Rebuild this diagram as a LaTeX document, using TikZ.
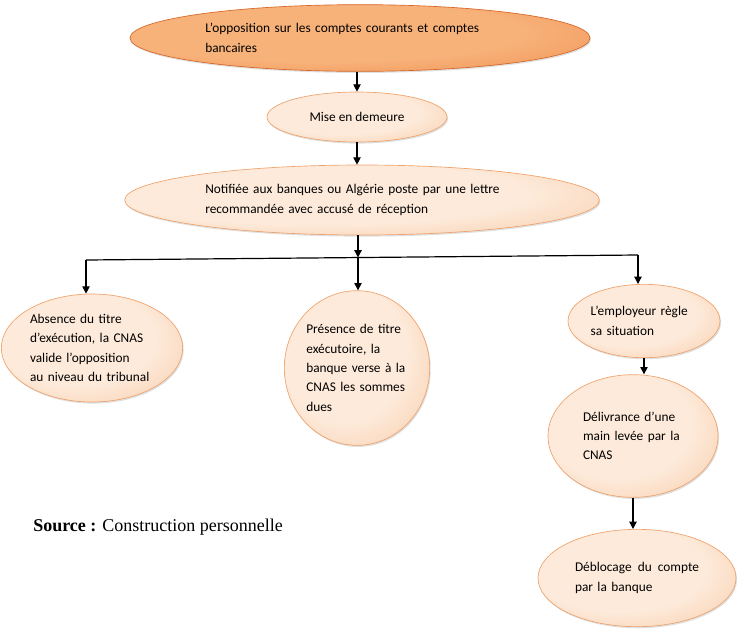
\documentclass[tikz,border=0pt]{standalone}
\usepackage{fontspec}
\setmainfont{Carlito}
\newfontfamily\timesfont{Liberation Serif}
\usetikzlibrary{arrows.meta,shapes.geometric,shadows}
\definecolor{peachin}{RGB}{253,234,218}
\definecolor{peachout}{RGB}{245,182,134}
\definecolor{peachedge}{RGB}{238,162,108}
\definecolor{orgin}{RGB}{247,178,122}
\definecolor{orgout}{RGB}{236,124,56}
\definecolor{orgedge}{RGB}{214,102,38}
\pgfdeclareradialshading{peachshade}{\pgfpoint{-8bp}{8bp}}{color(0bp)=(peachin); color(22bp)=(peachin); color(50bp)=(peachout)}
\pgfdeclareradialshading{orgshade}{\pgfpoint{-8bp}{8bp}}{color(0bp)=(orgin); color(22bp)=(orgin); color(50bp)=(orgout)}
\newcommand{\ovalfont}{\fontsize{10}{14.5}\selectfont\hyphenpenalty=10000\relax\exhyphenpenalty=10000\relax}
\tikzset{
  oval/.style    ={ellipse, inner sep=0pt, align=left, draw=peachedge, line width=0.5pt,
                   shading=peachshade, font=\ovalfont,
                   drop shadow={shadow xshift=0.8pt, shadow yshift=-1.2pt,
                                fill=black!40, opacity=0.3}},
  topoval/.style ={oval, draw=orgedge, shading=orgshade},
  flow/.style    ={-{Triangle[length=5.5pt,width=5.5pt]}, line width=0.9pt},
  bus/.style     ={line width=0.9pt},
  src/.style     ={anchor=west, inner sep=0pt, font=\timesfont\fontsize{13.5}{16}\selectfont},
}

\begin{document}
\begin{tikzpicture}[x=0.75pt,y=-0.75pt]
    \useasboundingbox (0,0) rectangle (737,632);

    % nodes
    \node[topoval, minimum width=345pt, minimum height=50pt, text width=232pt] (opp) at (360,38)
         {L’opposition sur les comptes courants et comptes\\bancaires};
    \node[oval, minimum width=135pt, minimum height=37.5pt, align=center] (mise) at (357,117)
         {Mise en demeure};
    \node[oval, minimum width=356pt, minimum height=52.5pt, text width=235pt] (notif) at (362,200)
         {Notifiée aux banques ou Algérie poste par une lettre\\recommandée avec accusé de réception};
    \node[oval, minimum width=136pt, minimum height=81pt, text width=93pt] (abs) at (92,348)
         {Absence du titre\\d’exécution, la CNAS\\valide l’opposition\\au niveau du tribunal};
    \node[oval, minimum width=109pt, minimum height=116pt, text width=76pt] (pres) at (357,368)
         {Présence de titre\\exécutoire, la\\banque verse à la\\CNAS les sommes\\dues};
    \node[oval, minimum width=114pt, minimum height=55pt, text width=80pt] (empl) at (644,321)
         {L’employeur règle\\sa situation};
    \node[oval, minimum width=127.5pt, minimum height=92pt, text width=75pt] (mainlev) at (633,436)
         {Délivrance d’une\\main levée par la\\CNAS};
    \node[oval, minimum width=148.5pt, minimum height=73pt, text width=93pt] (debl) at (637,578)
         {Déblocage\hfill du\hfill compte\\par la banque};
    \node[src] (source) at (33,527) {\textbf{Source :} Construction personnelle};

    % split line
    \coordinate (busL) at (86,260);
    \coordinate (busM) at (358,257.5);
    \coordinate (busR) at (638,255);
    \draw[bus] (busL) -- (busR);

    % flows
    \draw[flow] (mise.north |- opp.south) -- (mise.north);
    \draw[flow] (mise.south) -- (mise.south |- notif.north);
    \draw[flow] (notif.south -| busM) -- (busM);
    \draw[flow] (busL) -- (busL |- abs.north);
    \draw[flow] (busM) -- (busM |- pres.north);
    \draw[flow] (busR) -- (busR |- empl.north);
    \draw[flow] (empl.south) -- (empl.south |- mainlev.north);
    \draw[flow] (mainlev.south) -- (mainlev.south |- debl.north);
  \end{tikzpicture}
\end{document}
